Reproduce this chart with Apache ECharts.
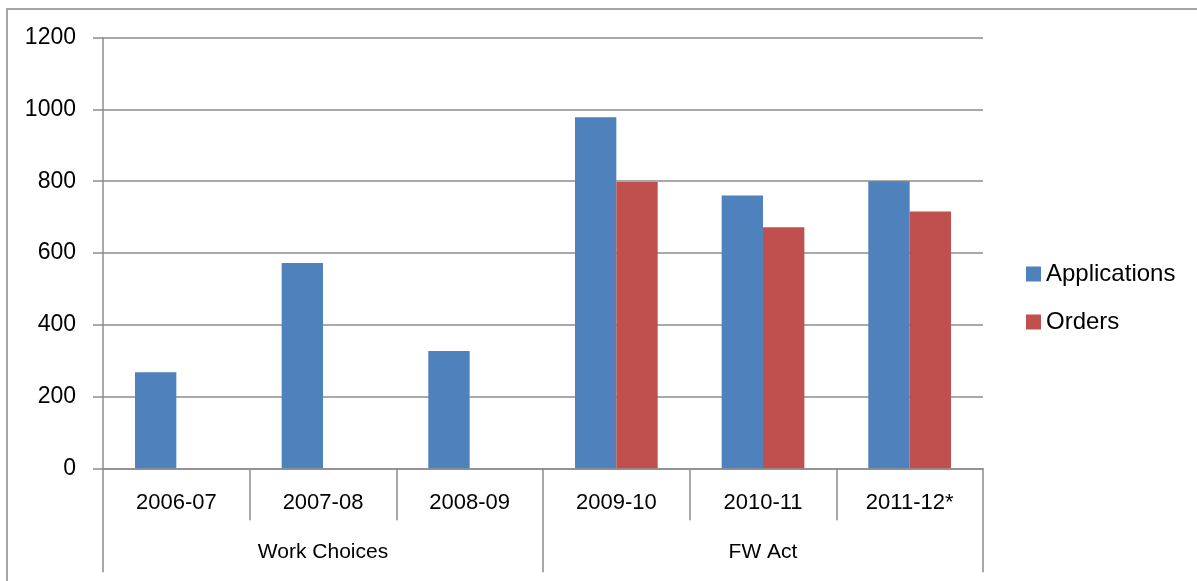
<!DOCTYPE html>
<html>
<head>
<meta charset="utf-8">
<script src="https://cdn.jsdelivr.net/npm/echarts@6/dist/echarts.min.js"></script>
<style>
html,body{margin:0;padding:0;background:#fff;}
#chart{width:1197px;height:581px;}
</style>
</head>
<body>
<div id="chart"></div>
<script>
const categories = ['2006-07', '2007-08', '2008-09', '2009-10', '2010-11', '2011-12*'];
const groups = ['Work Choices', 'FW Act'];
const applications = [268, 572, 327, 978, 760, 800];
const orders = [null, null, null, 798, 672, 716];
const yTicks = [0, 200, 400, 600, 800, 1000, 1200];

const FONT = 'Liberation Sans';
const GRID_COLOR = '#8c8c8c';

const chart = echarts.init(document.getElementById('chart'), null, {renderer: 'canvas'});
chart.setOption({
  animation: false,
  backgroundColor: '#ffffff',
  graphic: [{
    type: 'rect',
    shape: {x: 7, y: 9, width: 1400, height: 800},
    style: {fill: 'none', stroke: '#a6a6a6', lineWidth: 2},
    silent: true
  }],
  grid: {left: 103, right: 214, top: 37.7, bottom: 112.7, containLabel: false},
  legend: {
    orient: 'vertical',
    left: 1026,
    top: 262,
    padding: 0,
    icon: 'rect',
    itemWidth: 15,
    itemHeight: 15,
    itemGap: 24,
    textStyle: {fontFamily: FONT, fontSize: 24, color: '#000'},
    data: ['Applications', 'Orders']
  },
  xAxis: [{
    type: 'category',
    data: categories,
    position: 'bottom',
    axisLine: {show: true, lineStyle: {color: GRID_COLOR, width: 1.5}},
    axisTick: {show: true, length: 52, lineStyle: {color: GRID_COLOR, width: 1.5}},
    axisLabel: {fontFamily: FONT, fontSize: 22, color: '#000', margin: 24}
  }, {
    type: 'category',
    data: groups,
    position: 'bottom',
    offset: 0,
    axisLine: {show: false},
    axisTick: {show: true, length: 104, lineStyle: {color: GRID_COLOR, width: 1.5}},
    axisLabel: {fontFamily: FONT, fontSize: 21, color: '#000', margin: 73}
  }],
  yAxis: {
    type: 'value',
    min: yTicks[0],
    max: yTicks[yTicks.length - 1],
    interval: 200,
    axisLine: {show: true, lineStyle: {color: GRID_COLOR, width: 1.5}},
    axisTick: {show: true, length: 10, lineStyle: {color: GRID_COLOR, width: 1.5}},
    axisLabel: {fontFamily: FONT, fontSize: 23, color: '#000', margin: 27,
      formatter: function (v) { return String(v); }},
    splitLine: {show: true, lineStyle: {color: GRID_COLOR, width: 1.5}}
  },
  series: [{
    name: 'Applications',
    type: 'bar',
    data: applications,
    barGap: '0%',
    barCategoryGap: '43.6%',
    itemStyle: {color: '#4f81bd'}
  }, {
    name: 'Orders',
    type: 'bar',
    data: orders,
    barGap: '0%',
    barCategoryGap: '43.6%',
    itemStyle: {color: '#c0504d'}
  }]
});
</script>
</body>
</html>
